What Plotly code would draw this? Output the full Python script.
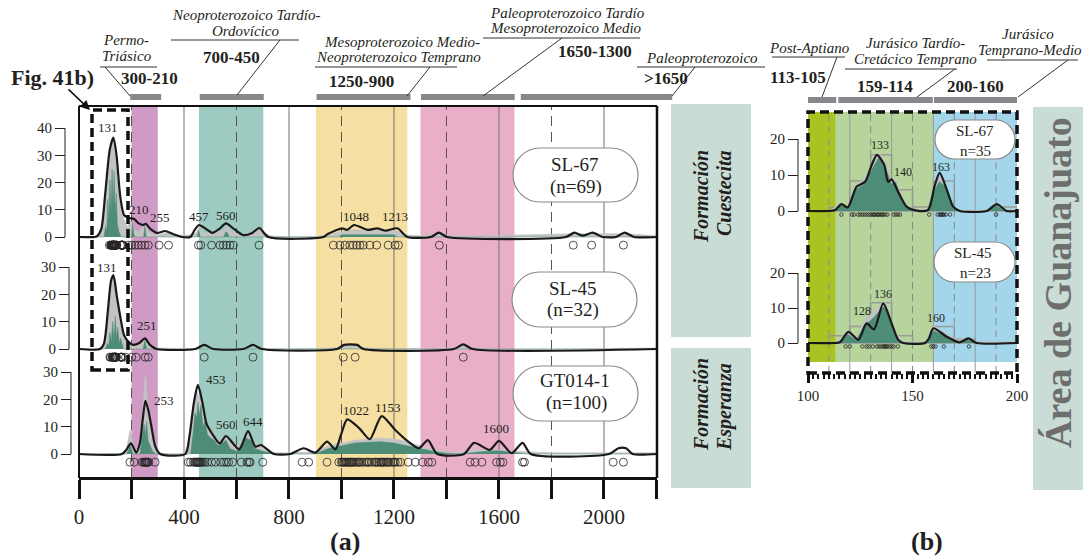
import plotly.graph_objects as go

W, H = 1083, 558
SERIF = "Liberation Serif"
INK = "#231f20"


def px(x):
    return x / W


def py(y):
    return 1 - y / H


# ---------------- U-Pb detrital zircon ages (Ma) ----------------
young_sl67 = [116, 121, 122, 124, 125, 126, 127, 128, 129, 130, 131, 131.5, 132, 133,
              133.5, 134, 135, 135.5, 136, 137, 138, 141, 142, 143, 144, 158, 162, 163,
              163.5, 164, 164.5, 165, 166, 168, 190]
young_sl45 = [118, 120, 126, 128, 129, 131, 133, 134, 135, 136, 136.5, 137, 137.5, 138,
              139, 140, 141, 143, 159, 160, 161, 165, 177]
ages_sl67 = young_sl67 + [201, 214, 226, 238, 251, 264, 305, 341, 455, 464, 505, 537, 550,
                          562, 575, 588, 686, 969, 994, 1013, 1032, 1045, 1058, 1070, 1083,
                          1108, 1134, 1178, 1204, 1217, 1373, 1883, 1953, 2074]
ages_sl45 = young_sl45 + [201, 218, 252, 264, 477, 663, 1007, 1052, 1464]
ages_gt014 = [194, 210, 240, 246, 250, 253, 255, 257, 259, 262, 266, 290, 416, 425, 435, 440,
              444, 447, 450, 452, 455, 457, 460, 463, 467, 472, 480, 490, 505, 520, 540, 552,
              562, 570, 585, 618, 640, 648, 652, 700, 850, 875, 945, 990, 1000, 1003, 1008,
              1011, 1015, 1020, 1024, 1028, 1033, 1036, 1040, 1044, 1048, 1055, 1062, 1066,
              1070, 1078, 1086, 1095, 1100, 1105, 1115, 1125, 1130, 1135, 1142, 1148, 1152,
              1156, 1160, 1165, 1172, 1176, 1180, 1188, 1196, 1200, 1205, 1215, 1225, 1254,
              1281, 1309, 1331, 1344, 1490, 1509, 1535, 1591, 1605, 1615, 1690, 1697, 2035,
              2074]

# ---------------- density curves, panel (a) ----------------
sl67_kde_x = [0, 60, 69, 85, 100, 117, 131, 143, 157, 172, 190, 210, 228, 243, 255, 272, 298,
              328, 360, 393, 424, 440, 457, 483, 508, 535, 560, 590, 626, 660, 687, 721, 931,
              946, 975, 1002, 1021, 1048, 1100, 1136, 1168, 1213, 1251, 1340, 1371, 1403, 1855,
              1887, 1919, 1957, 1995, 2046, 2078, 2115, 2202]
sl67_kde_y = [0, 0, 0.3, 3, 16, 32, 36.5, 30, 15, 8, 7, 6.6, 5, 4.4, 4.8, 3, 1.5, 2.2, 1, 0,
              0, 2.5, 4.4, 3, 1.5, 3, 5, 3, 0.7, 1.5, 3.3, 0, 0, 1.0, 2.3, 3.2, 2.6, 4.4, 2.6,
              3.2, 2.3, 3.2, 0, 0, 1.6, 0, 0, 1.6, 0.5, 1.6, 0, 0, 1.6, 0, 0]
sl67_pdp_x = [0, 70, 85, 100, 115, 127, 140, 155, 170, 185, 197, 210, 225, 240, 252, 265, 300,
              330, 400, 445, 457, 470, 550, 562, 580, 640, 687, 730, 940, 1000, 1050, 1100,
              1150, 1212, 1250, 1300, 1371, 1420, 1887, 1957, 2078, 2202]
sl67_pdp_y = [0, 0, 2, 14, 31, 35, 29, 14, 7, 4, 6, 3, 2, 3.5, 4.2, 2, 0.8, 1.5, 0.6, 1.5,
              3.5, 1.5, 2.5, 4, 2, 0.6, 2.5, 0.5, 0.5, 2, 2.8, 2.2, 2.5, 2.2, 0.8, 0.5, 1.2,
              0.5, 1.2, 1.2, 1.2, 0.5]
sl67_hist_x = [0, 95, 102, 106, 110, 114, 118, 122, 126, 130, 134, 138, 142, 146, 152, 160,
               200, 204, 209, 214, 246, 251, 256, 450, 456, 462, 552, 558, 566, 572, 990, 1000,
               1200, 1212, 2202]
sl67_hist_y = [0, 0, 4, 2, 14, 6, 21, 9, 25, 11, 24, 9, 16, 5, 2, 0, 0, 5, 1, 0, 0, 4, 0, 0,
               2.5, 0, 0, 1.8, 1.5, 0, 0, 0.8, 0.8, 0, 0]
peaks_sl67 = [131, 210, 255, 457, 560, 1048, 1213]

sl45_kde_x = [0, 80, 95, 110, 122, 131, 143, 157, 172, 190, 206, 230, 251, 270, 296, 443, 477,
              512, 626, 663, 697, 983, 1010, 1034, 1060, 1084, 1428, 1464, 1499, 2202]
sl45_kde_y = [0, 0, 2, 14, 25, 27.1, 20, 12, 5, 2.5, 1.5, 2.2, 3.9, 1.5, 0, 0, 1.5, 0, 0,
              1.5, 0, 0, 1.5, 1.7, 1.5, 0, 0, 1.7, 0, 0]
sl45_pdp_x = [0, 85, 100, 115, 127, 137, 150, 165, 180, 200, 230, 251, 268, 300, 980, 1034,
              1090, 1430, 1464, 1500, 2202]
sl45_pdp_y = [0, 0, 5, 19, 26, 26, 16, 7, 3.5, 1.5, 1.8, 3.3, 1.2, 0.5, 0.5, 1.5, 0.5, 0.5,
              1.5, 0.4, 0.4]
sl45_hist_x = [0, 100, 108, 113, 118, 123, 128, 133, 138, 143, 148, 153, 158, 170, 244, 251,
               258, 2202]
sl45_hist_y = [0, 0, 2, 1, 6, 2, 10, 3, 12, 4, 8, 2, 4, 0, 0, 3, 0, 0]
peaks_sl45 = [131, 251]

gt_kde_x = [0, 163, 180, 198, 218, 232, 242, 253, 264, 276, 290, 309, 405, 420, 438, 453, 470,
            486, 506, 536, 560, 610, 644, 672, 693, 742, 805, 856, 901, 945, 977, 998, 1022,
            1068, 1108, 1153, 1203, 1251, 1295, 1329, 1365, 1467, 1505, 1565, 1600, 1648,
            1690, 1721, 2019, 2055, 2084, 2109, 2202]
gt_kde_y = [0, 0, 1.5, 3.9, 0.5, 4, 12, 19.5, 16, 10, 3, 0, 0, 6, 19, 25.3, 19, 11, 7.6, 3.9,
            6.6, 1.7, 8.4, 2.7, 3.3, 0, 0, 2.1, 0.5, 4.5, 1.7, 7, 12.7, 9.4, 5.4, 13.9, 9.0,
            4.8, 2.1, 5.1, 0, 0, 4.1, 1.5, 4.8, 0.3, 4.1, 0, 0, 2.1, 2.1, 0, 0]
gt_pdp_x = [0, 170, 185, 195, 208, 225, 240, 253, 262, 275, 290, 310, 400, 425, 440, 450, 460,
            470, 480, 495, 510, 530, 555, 575, 600, 620, 644, 660, 690, 720, 760, 900, 950,
            1000, 1050, 1100, 1150, 1200, 1250, 1300, 1350, 1400, 1450, 1500, 1600, 1700,
            1800, 2202]
gt_pdp_y = [0, 0, 4, 8.8, 3, 1, 12, 29, 18, 8, 3, 0.5, 0.5, 9, 19, 23, 20, 21, 14, 10, 8, 5,
            7, 4, 3, 5, 7, 5, 3, 1, 0.5, 1, 3, 4, 5, 5.5, 5.8, 5.5, 4.5, 3, 1.8, 1, 0.8, 1.5,
            1.5, 0.8, 0.5, 0.5]
gt_hist_x = [0, 182, 195, 206, 232, 242, 248, 253, 258, 263, 270, 280, 292, 425, 435, 442,
             448, 453, 458, 465, 472, 480, 490, 500, 515, 530, 545, 560, 575, 600, 615, 635,
             644, 655, 670, 700, 740, 900, 950, 1000, 1050, 1100, 1150, 1200, 1250, 1300,
             1350, 1400, 1450, 1500, 1550, 1600, 1650, 1700, 2202]
gt_hist_y = [0, 0, 3, 0, 0, 6, 11, 7, 12, 5, 3, 1, 0, 0, 8, 15, 13, 19, 14, 18, 10, 12, 7, 6,
             5, 3, 4, 5, 2, 1, 3, 6, 5.5, 5, 2, 1, 0, 0, 2, 3, 4, 4.3, 4.5, 4, 3, 2, 1, 0.3,
             0, 0.5, 1, 1.2, 0.5, 0, 0]
peaks_gt = [253, 453, 560, 644, 1022, 1153, 1600]

# ---------------- density curves, panel (b) ----------------
b67_kde_x = [100, 110, 113, 116, 119, 123.3, 127.3, 130.5, 133, 136.5, 138.3, 140, 143.5,
             147.2, 152, 157.5, 160.5, 163, 166.5, 169.5, 172.7, 185.5, 190.3, 195, 200]
b67_kde_y = [0, 0, 0.3, 1.9, 1.0, 6.8, 8.1, 12.8, 15.6, 12.8, 8.1, 8.8, 4.9, 1.2, 0.1, 0.3,
             6.8, 10.6, 5.8, 1.2, 0, 0, 1.9, 0, 0]
b67_pdp_x = [100, 111, 116, 119, 123, 127, 131, 134, 137, 140, 142, 144, 147, 152, 157, 160.5,
             163, 166, 169, 172, 186, 190, 194, 200]
b67_pdp_y = [0, 0.3, 2.2, 1.3, 7.5, 8.8, 13.5, 16, 13.5, 8.8, 9, 5.5, 1.8, 0.5, 0.8, 7.5, 10,
             7, 2, 0.5, 0.5, 2.3, 0.5, 0.5]
b67_fill_x = [100, 112, 116, 119, 123, 127, 131, 134, 137, 140, 142, 144, 147, 152, 157,
              160.5, 163, 166, 169, 172, 186, 190, 194, 200]
b67_fill_y = [0, 0, 1.5, 0.8, 6, 7.5, 12, 15, 12, 7.5, 8, 4.5, 1, 0, 0, 6, 8.2, 6.5, 1.5, 0,
              0, 1.5, 0, 0]
peaks_b67 = [133, 140, 163]

b45_kde_x = [100, 113, 115.3, 119.3, 124.1, 128, 131.6, 136, 140, 143.2, 145.6, 156, 158, 160,
             166.4, 172.7, 176.7, 180.7, 200]
b45_kde_y = [0, 0, 0.2, 3.2, 0.9, 5.6, 3.9, 11.3, 5.6, 0.9, 0, 0, 1.5, 4.2, 1.8, 0.2, 1.3, 0,
             0]
b45_pdp_x = [100, 114, 119, 123, 127, 131, 134, 136.5, 139, 142, 146, 156, 160, 164, 168, 172,
             176, 181, 200]
b45_pdp_y = [0, 0.3, 3.5, 1.5, 6.5, 9, 10.5, 12, 8, 3, 0.5, 0.5, 4.8, 3.5, 2, 0.8, 1.6, 0.5,
             0.5]
b45_fill_x = [100, 115, 119, 123, 127, 131, 134, 136.5, 139, 142, 145, 157, 160, 164, 168, 172,
              176, 180, 200]
b45_fill_y = [0, 0, 2.5, 0.8, 5, 7, 9, 10.5, 7, 2, 0, 0, 3.5, 2.5, 1, 0.3, 1, 0, 0]
peaks_b45 = [128, 136, 160]

# histogram bins (10 Ma) for panel (b)
bin_left = [110, 120, 130, 140, 150, 160, 170, 180, 190]
bin_sl67 = [1, 8.3, 15.6, 5.9, 1.1, 8.3, 0, 0, 1.1]
bin_sl45 = [2.1, 4.7, 11.5, 2.1, 0, 4.7, 1.1, 0, 0]

# age intervals for the shaded bands
bands_a = [(200, 300, "#cf9bc5"), (457, 702, "#9dcbc1"), (903, 1251, "#f6dfa2"),
           (1301, 1659, "#e9afc9")]
bars_a = [(195, 313), (460, 704), (905, 1263), (1303, 1660), (1683, 2260)]
bands_b = [(100, 113.3, "#a8c422"), (113.3, 160, "#b6d49c"), (160, 200, "#a3d6eb")]
bars_b = [(100, 113.5), (114.5, 159.7), (160.3, 200)]

GREEN = "#4d8c77"
GRAY = "#c3c3c3"

# panel (a) horizontal placement: age axis from 0 to 2202 Ma between x=79 and x=657 px
A_LEFT, A_RIGHT, A_MAX = 79, 657, 2202


def age_to_px(v):
    return A_LEFT + v * (A_RIGHT - A_LEFT) / A_MAX


fig = go.Figure()


def add_sample(xa, ya, kde_x, kde_y, pdp_x, pdp_y, fill_x, fill_y, ages, dot_y, dot_size):
    fig.add_trace(go.Scatter(x=pdp_x, y=pdp_y, xaxis=xa, yaxis=ya, mode="lines",
                             line=dict(color=GRAY, width=0.5, shape="spline", smoothing=0.6),
                             fill="tozeroy", fillcolor=GRAY, hoverinfo="skip"))
    fig.add_trace(go.Scatter(x=fill_x, y=fill_y, xaxis=xa, yaxis=ya, mode="lines",
                             line=dict(color=GREEN, width=0.5),
                             fill="tozeroy", fillcolor=GREEN, hoverinfo="skip"))
    fig.add_trace(go.Scatter(x=kde_x, y=kde_y, xaxis=xa, yaxis=ya, mode="lines",
                             line=dict(color="#1a1a1a", width=2.2, shape="spline",
                                       smoothing=0.7)))
    fig.add_trace(go.Scatter(x=ages, y=[dot_y] * len(ages), xaxis=xa, yaxis=ya,
                             mode="markers", cliponaxis=False,
                             marker=dict(symbol="circle-open", size=dot_size,
                                         color="rgba(40,36,37,0.8)", line=dict(width=1))))


def add_hist(xa, ya, counts):
    fig.add_trace(go.Bar(x=[b + 5 for b in bin_left], y=counts, width=10, xaxis=xa, yaxis=ya,
                         marker=dict(color="rgba(0,0,0,0)",
                                     line=dict(color="rgba(150,150,150,0.9)", width=1.5))))


add_sample("x", "y", sl67_kde_x, sl67_kde_y, sl67_pdp_x, sl67_pdp_y, sl67_hist_x, sl67_hist_y,
           ages_sl67, -3, 8)
add_sample("x", "y2", sl45_kde_x, sl45_kde_y, sl45_pdp_x, sl45_pdp_y, sl45_hist_x, sl45_hist_y,
           ages_sl45, -3, 8)
add_sample("x", "y3", gt_kde_x, gt_kde_y, gt_pdp_x, gt_pdp_y, gt_hist_x, gt_hist_y,
           ages_gt014, -3, 8)
add_sample("x2", "y4", b67_kde_x, b67_kde_y, b67_pdp_x, b67_pdp_y, b67_fill_x, b67_fill_y,
           young_sl67, -1, 3.5)
add_hist("x2", "y4", bin_sl67)
add_sample("x2", "y5", b45_kde_x, b45_kde_y, b45_pdp_x, b45_pdp_y, b45_fill_x, b45_fill_y,
           young_sl45, -1, 3.5)
add_hist("x2", "y5", bin_sl45)


# ---------------- axes ----------------
def y_axis(zero_px, ppu, top_px, bot_px, line_x, tickvals):
    return dict(domain=[py(bot_px), py(top_px)],
                range=[-(bot_px - zero_px) / ppu, (zero_px - top_px) / ppu],
                anchor="free", position=px(line_x), showgrid=False, zeroline=False,
                showline=False, ticks="outside", ticklen=10, tickwidth=1, tickcolor=INK,
                tickvals=tickvals, automargin=False,
                tickfont=dict(family=SERIF, size=15, color=INK))


ax_a = [("y", 237, 2.72, 110, 252, 65, [0, 10, 20, 30, 40]),
        ("y2", 349, 2.73, 262, 364, 69, [0, 10, 20, 30]),
        ("y3", 454, 2.73, 368, 470, 71, [0, 10, 20, 30]),
        ("y4", 211, 3.6, 114, 222, 798, [0, 10, 20]),
        ("y5", 343, 3.5, 236, 358, 798, [0, 10, 20])]

layout_axes = {}
for name, zero, ppu, top, bot, lx, tv in ax_a:
    key = "yaxis" if name == "y" else "yaxis" + name[1:]
    layout_axes[key] = y_axis(zero, ppu, top, bot, lx, tv)

x_ticks = list(range(0, 2201, 200))
layout_axes["xaxis"] = dict(
    domain=[px(A_LEFT), px(A_RIGHT)], range=[0, A_MAX], anchor="free", position=py(478),
    showgrid=False, zeroline=False, showline=True, linewidth=2.5, linecolor="#111",
    ticks="outside", ticklen=19, tickwidth=3, tickcolor="#111", tickvals=x_ticks,
    ticktext=[str(v) if v % 400 == 0 else "" for v in x_ticks], automargin=False,
    tickfont=dict(family=SERIF, size=21, color=INK))
layout_axes["xaxis2"] = dict(
    domain=[px(808), px(1017)], range=[100, 200], anchor="free", position=py(373),
    showgrid=False, zeroline=False, showline=False, ticks="outside", ticklen=9,
    tickwidth=2.5, tickcolor="#111", tickmode="linear", tick0=100, dtick=50,
    minor=dict(ticks="outside", ticklen=5, tickwidth=1.5, tickcolor="#111", dtick=2.5,
               showgrid=False), automargin=False,
    tickfont=dict(family=SERIF, size=15, color=INK))

shapes = []
annotations = []


def pline(x0, y0, x1, y1, color=INK, width=1, dash=None):
    shapes.append(dict(type="line", xref="paper", yref="paper", x0=px(x0), y0=py(y0),
                       x1=px(x1), y1=py(y1), line=dict(color=color, width=width, dash=dash)))


def prect(x0, y0, x1, y1, fill=None, color=None, width=0, dash=None, layer="above"):
    shapes.append(dict(type="rect", xref="paper", yref="paper", x0=px(x0), y0=py(y1),
                       x1=px(x1), y1=py(y0), fillcolor=fill, layer=layer,
                       line=dict(color=color or "rgba(0,0,0,0)", width=width, dash=dash)))


def pill(x0, y0, x1, y1):
    r = (y1 - y0) / 2
    k = 0.5523 * r
    pts = [("M", [(x0 + r, y0)]), ("L", [(x1 - r, y0)]),
           ("C", [(x1 - r + k, y0), (x1, y0 + r - k), (x1, y0 + r)]),
           ("C", [(x1, y0 + r + k), (x1 - r + k, y1), (x1 - r, y1)]),
           ("L", [(x0 + r, y1)]),
           ("C", [(x0 + r - k, y1), (x0, y0 + r + k), (x0, y0 + r)]),
           ("C", [(x0, y0 + r - k), (x0 + r - k, y0), (x0 + r, y0)])]
    path = " ".join(cmd + " " + " ".join(f"{px(a):.5f},{py(b):.5f}" for a, b in p)
                    for cmd, p in pts) + " Z"
    shapes.append(dict(type="path", xref="paper", yref="paper", path=path,
                       fillcolor="white", line=dict(color="#8a8a8a", width=1.2)))


def text(x, y, s, size, color=INK, angle=0, xanchor="center"):
    annotations.append(dict(x=px(x), y=py(y), xref="paper", yref="paper", text=s,
                            showarrow=False, textangle=angle, xanchor=xanchor,
                            yanchor="middle", font=dict(family=SERIF, size=size, color=color)))


# shaded age bands and grid, panel (a)
for a0, a1, c in bands_a:
    shapes.append(dict(type="rect", xref="x", yref="paper", x0=a0, x1=a1, y0=py(478),
                       y1=py(106), fillcolor=c, line=dict(width=0), layer="below"))
for v in range(200, 2201, 200):
    if v % 400 == 0:
        ln = dict(color="#7a6e6e", width=1)
    else:
        ln = dict(color="#5a5050", width=1, dash="10px,6px")
    shapes.append(dict(type="line", xref="x", yref="paper", x0=v, x1=v, y0=py(478),
                       y1=py(106), line=ln, layer="below"))
# interval bars above the frame (the last one runs past the axis end)
for a0, a1 in bars_a:
    prect(age_to_px(a0), 94, age_to_px(a1), 100, fill="#88888c")

# panel (b) bands and grid
for a0, a1, c in bands_b:
    shapes.append(dict(type="rect", xref="x2", yref="paper", x0=a0, x1=a1, y0=py(362),
                       y1=py(112), fillcolor=c, line=dict(width=0), layer="below"))
for v in range(110, 200, 10):
    if v % 20 == 0:
        ln = dict(color="#9a9a9a", width=1)
    else:
        ln = dict(color="#8a8a8a", width=1, dash="7px,5px")
    shapes.append(dict(type="line", xref="x2", yref="paper", x0=v, x1=v, y0=py(373),
                       y1=py(112), line=ln, layer="below"))
for a0, a1 in bars_b:
    shapes.append(dict(type="rect", xref="x2", yref="paper", x0=a0, x1=a1, y0=py(103),
                       y1=py(97), fillcolor="#88888c", line=dict(width=0)))

# y-axis spines
for name, zero, ppu, top, bot, lx, tv in ax_a:
    shapes.append(dict(type="line", xref="paper", yref=name, x0=px(lx), x1=px(lx), y0=0,
                       y1=tv[-1], line=dict(color=INK, width=1)))

# frames
pline(79, 106, 657, 106, "#111", 2)
pline(79, 106, 79, 478, "#111", 2)
pline(657, 106, 657, 478, "#111", 2.5)
prect(92, 110, 128, 370, color="#111", width=3.5, dash="9px,5px")
prect(808, 112, 1017, 373, color="#111", width=3.5, dash="9px,5px")

# side panels
prect(671, 104, 751, 337, fill="#c9dcd5", layer="below")
prect(671, 348, 751, 488, fill="#c9dcd5", layer="below")
prect(1033, 107, 1083, 490, fill="#c9dcd5", layer="below")

# sample boxes
pill(513, 148, 638, 202)
pill(512, 272, 637, 327)
pill(513, 366, 638, 421)
pill(935, 120, 1015, 159)
pill(934, 242, 1015, 282)

# leader lines under the interval names
for x0, y0, x1, y1 in [(100, 67, 157, 67), (105, 67, 130, 96), (171, 40, 299, 40),
                       (280, 40, 237, 95), (315, 67, 457, 67), (430, 67, 407, 96),
                       (483, 38, 640, 38), (562, 38, 483, 96), (637, 67, 765, 67),
                       (695, 67, 672, 96), (772, 57, 845, 57), (837, 57, 822, 97),
                       (845, 69, 957, 69), (955, 69, 917, 97), (987, 60, 1078, 60),
                       (1068, 60, 1018, 97)]:
    pline(x0, y0, x1, y1, "#333", 1)

# interval names and age ranges
for x, y, s in [(126, 40, "Permo-"), (127, 56, "Triásico"), (246, 15, "Neoproterozoico Tardío-"),
                (245, 31, "Ordovícico"), (402, 42, "Mesoproterozoico Medio-"),
                (398, 57, "Neoproterozoico Temprano"), (567, 13, "Paleoproterozoico Tardío"),
                (566, 28, "Mesoproterozoico Medio"), (702, 58, "Paleoproterozoico"),
                (809, 48, "Post-Aptiano"), (915, 43, "Jurásico Tardío-"),
                (915, 59, "Cretácico Temprano"), (1028, 34, "Jurásico"),
                (1030, 50, "Temprano-Medio")]:
    text(x, y, "<i>" + s + "</i>", 15)
for x, y, s in [(149, 79, "300-210"), (231, 57, "700-450"), (362, 82, "1250-900"),
                (595, 51, "1650-1300"), (666, 79, ">1650"), (798, 78, "113-105"),
                (885, 87, "159-114"), (975, 87, "200-160")]:
    text(x, y, "<b>" + s + "</b>", 17)

text(52, 77, "<b>Fig. 41b)</b>", 22)
annotations.append(dict(x=px(90), y=py(110), xref="paper", yref="paper", text="",
                        showarrow=True, ax=-23, ay=-22, axref="pixel", ayref="pixel",
                        arrowhead=2, arrowsize=1.2, arrowwidth=1.6, arrowcolor="#111"))

# sample names
for x, y, s, size in [(575, 165, "SL-67", 19), (576, 187, "(n=69)", 19),
                      (573, 288, "SL-45", 19), (573, 310, "(n=32)", 19),
                      (575, 381, "GT014-1", 19), (576, 403, "(n=100)", 19),
                      (975, 131, "SL-67", 15), (975, 151, "n=35", 15),
                      (973, 253, "SL-45", 15), (975, 273, "n=23", 15)]:
    text(x, y, s, size)

# formation names
text(701, 197, "<b><i>Formación</i></b>", 20, angle=-90)
text(724, 193, "<b><i>Cuestecita</i></b>", 20, angle=-90)
text(701, 405, "<b><i>Formación</i></b>", 20, angle=-90)
text(724, 407, "<b><i>Esperanza</i></b>", 20, angle=-90)
text(1058, 283, "<b>Área de Guanajuato</b>", 38, color="#6e6e6e", angle=-90)

text(345, 541, "<b>(a)</b>", 26)
text(927, 541, "<b>(b)</b>", 26)


# peak age labels (value taken from the curve itself)
def peak_labels(xa, ya, kx, ky, peaks, shifts, size):
    for p, (dx, dy) in zip(peaks, shifts):
        annotations.append(dict(x=p, y=ky[kx.index(p)], xref=xa, yref=ya, text=str(p),
                                showarrow=False, xanchor="center", yanchor="middle",
                                xshift=dx, yshift=dy,
                                font=dict(family=SERIF, size=size, color=INK)))


peak_labels("x", "y", sl67_kde_x, sl67_kde_y, peaks_sl67,
            [(-5, 10), (5, 10), (14, 6), (0, 9), (0, 8), (2, 9), (-2, 12)], 13)
peak_labels("x", "y2", sl45_kde_x, sl45_kde_y, peaks_sl45, [(-6, 8), (2, 13)], 13)
peak_labels("x", "y3", gt_kde_x, gt_kde_y, peaks_gt,
            [(19, 0), (18, 5), (0, 11), (5, 10), (9, 9), (6, 9), (-3, 12)], 13)
peak_labels("x2", "y4", b67_kde_x, b67_kde_y, peaks_b67, [(3, 10), (11, 7), (1, 6)], 12)
peak_labels("x2", "y5", b45_kde_x, b45_kde_y, peaks_b45, [(-5, 12), (0, 9), (3, 10)], 12)

fig.update_layout(
    width=W, height=H, autosize=False,
    margin=dict(l=0, r=0, t=0, b=0, pad=0, autoexpand=False),
    paper_bgcolor="white", plot_bgcolor="rgba(0,0,0,0)", showlegend=False,
    barmode="overlay", shapes=shapes, annotations=annotations, **layout_axes)

fig.write_html("out.html")
